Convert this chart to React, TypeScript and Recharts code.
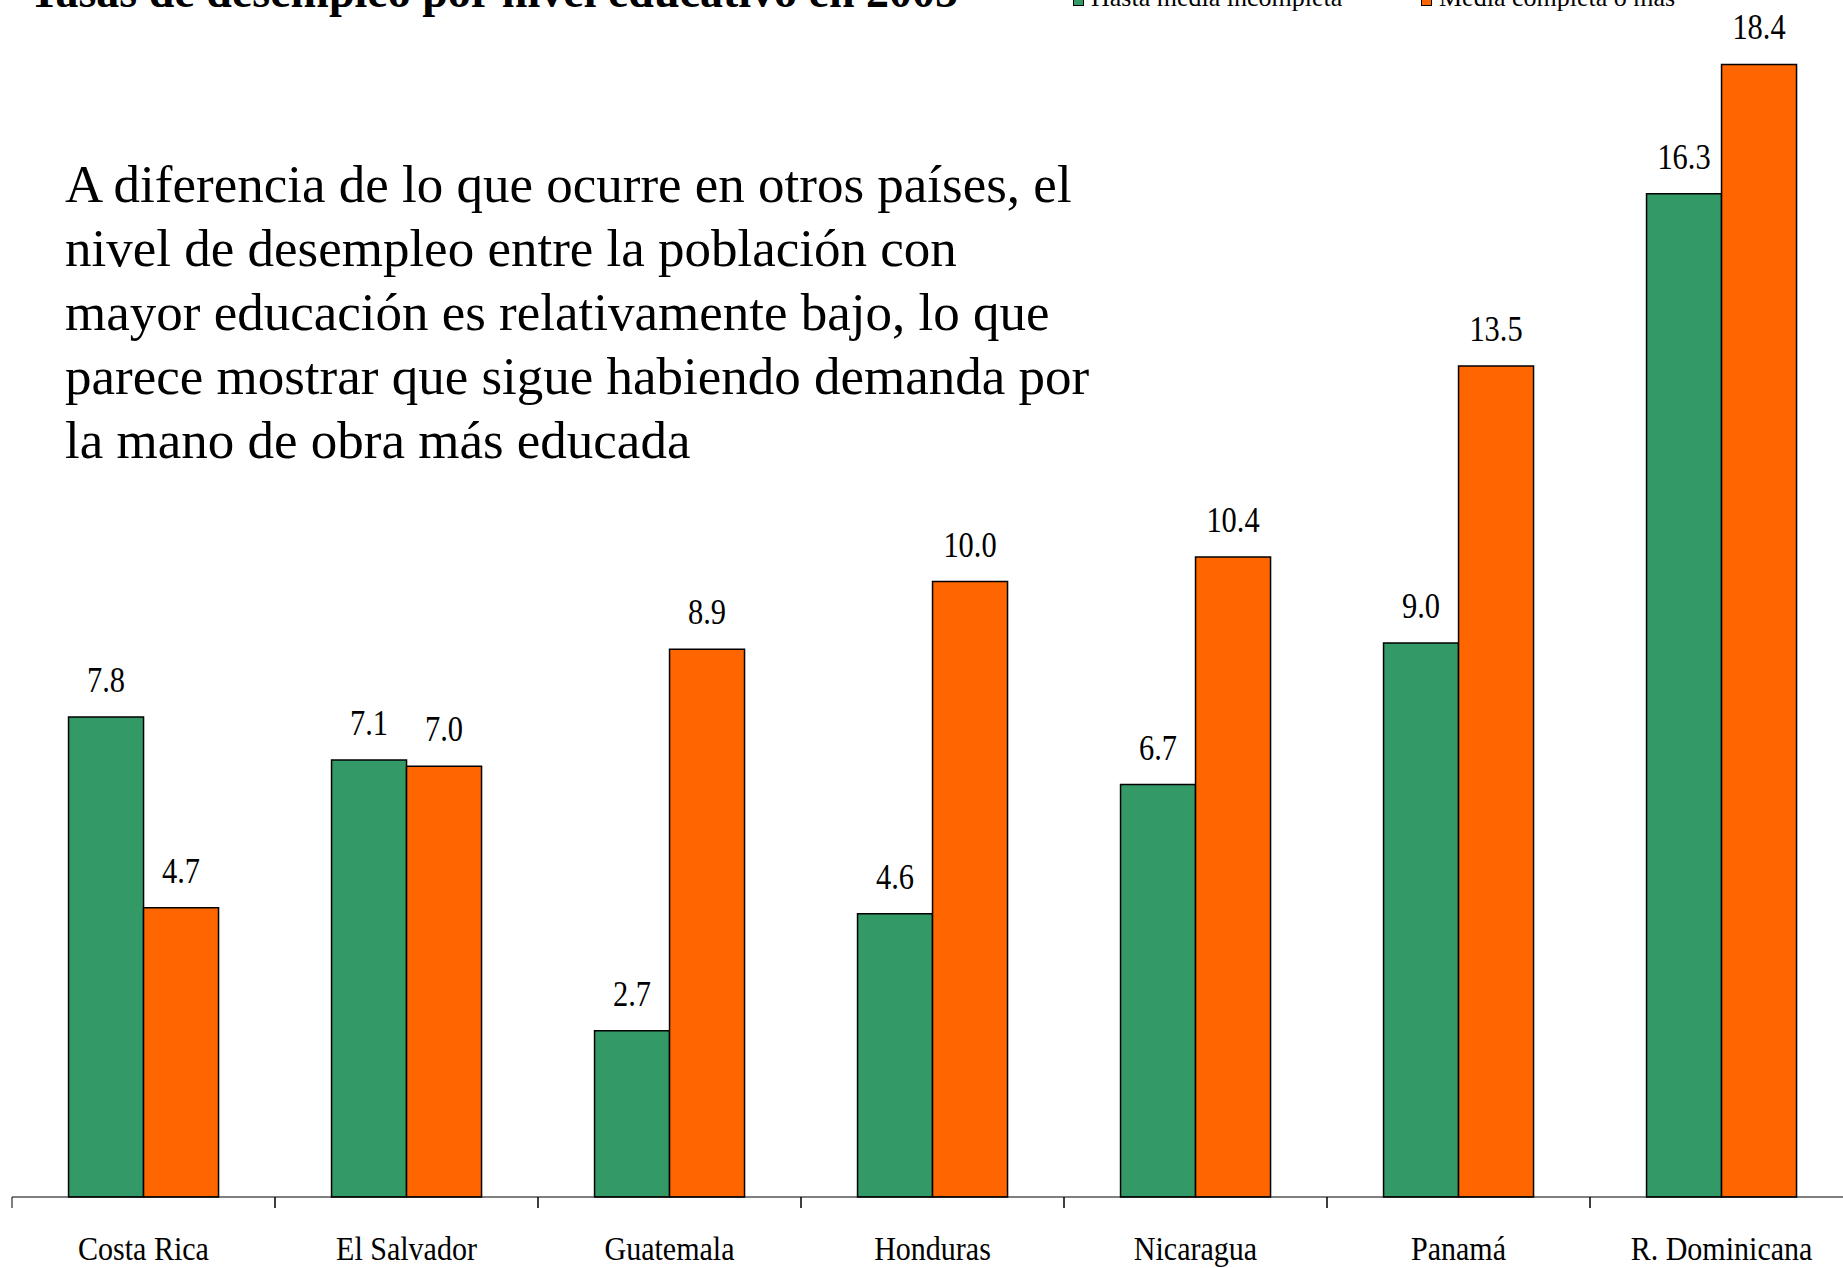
import React from 'react';
import { BarChart, Bar, XAxis, YAxis, Legend, LabelList } from 'recharts';

// Tasas de desempleo por nivel educativo, 2005
const countries = ['Costa Rica', 'El Salvador', 'Guatemala', 'Honduras', 'Nicaragua', 'Panamá', 'R. Dominicana'];
const hastaMedia = [7.8, 7.1, 2.7, 4.6, 6.7, 9.0, 16.3];
const mediaCompleta = [4.7, 7.0, 8.9, 10.0, 10.4, 13.5, 18.4];
const seriesNames = ['Hasta media incompleta', 'Media completa o más'];
const yDomain = [0, 20];

const GREEN = '#339966';
const ORANGE = '#FF6600';
const FONT = '"Liberation Serif", "Times New Roman", serif';

const CHART_W = 1853;
const MARGIN_LEFT = 12;
const PLOT_W = CHART_W - MARGIN_LEFT;
const BAND = PLOT_W / countries.length;
const LEGEND_H = 30; // legend box eats this much from the plot height

const data = countries.map((c, i) => ({
  country: c,
  hasta: hastaMedia[i],
  media: mediaCompleta[i],
}));

const annotation = [
  'A diferencia de lo que ocurre en otros países, el',
  'nivel de desempleo entre la población con',
  'mayor educación es relativamente bajo, lo que',
  'parece mostrar que sigue habiendo demanda por',
  'la mano de obra más educada',
];

function CountryTick(props: any) {
  const { x, y, payload } = props;
  return (
    <g>
      <line x1={x - BAND / 2} y1={y} x2={x - BAND / 2} y2={y + 11} stroke="#000" strokeWidth={1} />
      <line x1={x + BAND / 2} y1={y} x2={x + BAND / 2} y2={y + 11} stroke="#000" strokeWidth={1} />
      <text
        transform={`translate(${x},${y + 63}) scale(0.91,1)`}
        textAnchor="middle"
        fontSize={33}
        fontFamily={FONT}
        fill="#000"
      >
        {payload.value}
      </text>
    </g>
  );
}

function ValueLabel(props: any) {
  const { x, y, width, value } = props;
  return (
    <text
      transform={`translate(${x + width / 2},${y - 25}) scale(0.87,1)`}
      textAnchor="middle"
      fontSize={35}
      fontFamily={FONT}
      fill="#000"
    >
      {Number(value).toFixed(1)}
    </text>
  );
}

function TopLegend() {
  const colors = [GREEN, ORANGE];
  const lefts = [0, 348];
  return (
    <div style={{ position: 'relative', height: LEGEND_H, fontFamily: FONT, fontSize: 26, lineHeight: '29px' }}>
      {seriesNames.map((n, i) => (
        <div key={n} style={{ position: 'absolute', left: lefts[i], top: 0, whiteSpace: 'nowrap' }}>
          <span
            style={{
              display: 'inline-block',
              width: 9,
              height: 9,
              background: colors[i],
              border: '1px solid #000',
              marginRight: 7,
              verticalAlign: 'baseline',
            }}
          />
          {n}
        </div>
      ))}
    </div>
  );
}

export default function App() {
  return (
    <div
      style={{
        position: 'absolute',
        left: 0,
        top: 0,
        width: 1843,
        height: 1268,
        overflow: 'hidden',
        background: '#fff',
      }}
    >
      {/* Title (cut by the top edge, as in the source) */}
      <div
        style={{
          position: 'absolute',
          left: 29,
          top: -34,
          fontFamily: FONT,
          fontWeight: 'bold',
          fontSize: 46,
          lineHeight: '51px',
          whiteSpace: 'nowrap',
        }}
      >
        Tasas de desempleo por nivel educativo en 2005
      </div>

      {/* Chart */}
      <div style={{ position: 'absolute', left: 0, top: -34 - LEGEND_H }}>
        <BarChart
          width={CHART_W}
          height={1311 + LEGEND_H}
          data={data}
          margin={{ top: 0, right: 0, left: MARGIN_LEFT, bottom: 0 }}
          barCategoryGap="21.5%"
          barGap={0}
        >
          <XAxis
            dataKey="country"
            height={80}
            interval={0}
            tickLine={false}
            tickSize={0}
            tickMargin={0}
            axisLine={{ stroke: '#000', strokeWidth: 1 }}
            tick={<CountryTick />}
          />
          <YAxis hide domain={yDomain} />
          <Legend
            verticalAlign="top"
            align="left"
            content={<TopLegend />}
            wrapperStyle={{ top: 17 + LEGEND_H, left: 1073, width: 700 }}
          />
          <Bar dataKey="hasta" name={seriesNames[0]} fill={GREEN} stroke="#000" strokeWidth={1.5} isAnimationActive={false}>
            <LabelList dataKey="hasta" content={<ValueLabel />} />
          </Bar>
          <Bar dataKey="media" name={seriesNames[1]} fill={ORANGE} stroke="#000" strokeWidth={1.5} isAnimationActive={false}>
            <LabelList dataKey="media" content={<ValueLabel />} />
          </Bar>
        </BarChart>
      </div>

      {/* Annotation */}
      <div
        style={{
          position: 'absolute',
          left: 65,
          top: 152,
          fontFamily: FONT,
          fontSize: 53,
          lineHeight: '64px',
          whiteSpace: 'nowrap',
          color: '#000',
        }}
      >
        {annotation.map((l) => (
          <div key={l}>{l}</div>
        ))}
      </div>
    </div>
  );
}
